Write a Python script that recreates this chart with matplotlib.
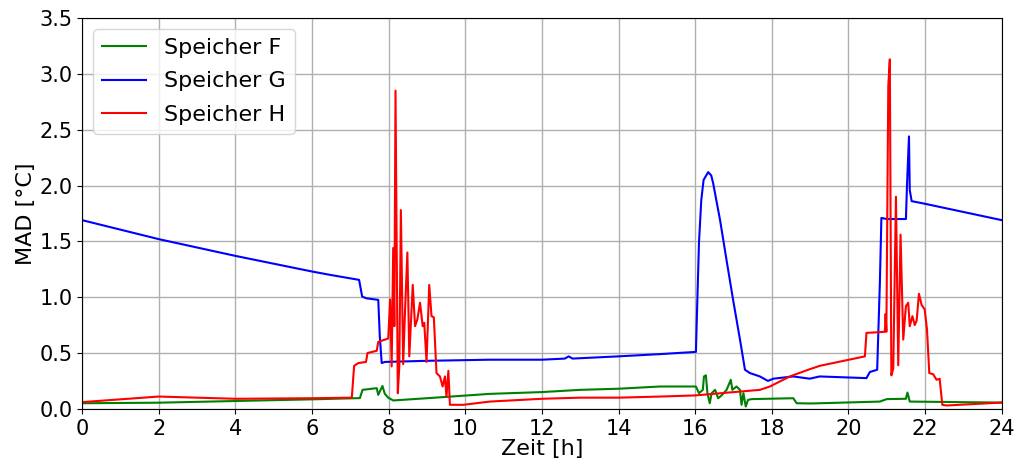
import matplotlib
matplotlib.use('Agg')
import matplotlib.pyplot as plt

# Speicher F (green)
f_t = [0, 2, 4, 6, 7.25, 7.32, 7.69, 7.73, 7.77, 7.84, 7.90, 7.99, 8.12, 9.0, 10.64, 12, 13, 14,
       15.08, 16.02, 16.1, 16.2, 16.23, 16.28, 16.32, 16.38, 16.43, 16.52, 16.60, 16.69, 16.82,
       16.93, 16.97, 17.08, 17.17, 17.21, 17.26, 17.32, 17.38, 17.47, 18.56, 18.65, 19.0, 19.25,
       20.82, 21.0, 21.5, 21.54, 21.6, 24]
f_v = [0.05, 0.055, 0.07, 0.085, 0.096, 0.17, 0.185, 0.125, 0.155, 0.205, 0.135, 0.10, 0.075, 0.095, 0.134, 0.15, 0.17, 0.18,
       0.20, 0.20, 0.14, 0.17, 0.29, 0.30, 0.14, 0.05, 0.14, 0.17, 0.095, 0.12, 0.17,
       0.26, 0.17, 0.20, 0.17, 0.036, 0.14, 0.02, 0.08, 0.087, 0.095, 0.05, 0.048, 0.05,
       0.065, 0.087, 0.09, 0.146, 0.065, 0.056]

# Speicher G (blue)
g_t = [0, 2, 4, 6, 6.47, 7.23, 7.31, 7.42, 7.73, 7.77, 7.82, 7.9, 9.0, 10.64, 12, 12.6, 12.7, 12.8, 14,
       15.08, 16.02, 16.05, 16.1, 16.16, 16.22, 16.34, 16.42, 16.47, 16.65, 16.82, 16.99, 17.17, 17.30, 17.43,
       17.69, 17.9, 18.04, 18.56, 18.99, 19.25, 20.47, 20.56, 20.75, 20.82, 20.86, 21.0, 21.50,
       21.53, 21.58, 21.60, 21.65, 21.95, 24]
g_v = [1.69, 1.52, 1.37, 1.23, 1.20, 1.155, 1.005, 0.99, 0.976, 0.65, 0.41, 0.42, 0.43, 0.44, 0.44, 0.45, 0.47, 0.45, 0.47,
       0.49, 0.51, 0.89, 1.49, 1.87, 2.05, 2.12, 2.09, 2.02, 1.69, 1.33, 0.976, 0.62, 0.35, 0.32,
       0.29, 0.25, 0.27, 0.29, 0.27, 0.29, 0.275, 0.33, 0.35, 1.125, 1.71, 1.70, 1.70,
       2.02, 2.44, 1.96, 1.86, 1.84, 1.69]

# Speicher H (red)
h_t = [0, 2, 4, 6, 7.04, 7.10, 7.21, 7.41, 7.45, 7.69, 7.73, 7.99, 8.04, 8.08, 8.12, 8.15, 8.18,
       8.24, 8.28, 8.32, 8.38, 8.43, 8.49, 8.54, 8.63, 8.69, 8.75, 8.82, 8.89, 8.93, 8.99, 9.06,
       9.12, 9.18, 9.25, 9.34, 9.41, 9.47, 9.51, 9.56, 9.60, 9.95, 10.64, 12, 13, 14, 15.08, 16,
       17.69, 17.95, 18.47, 18.95, 19.25, 20.43, 20.47, 20.95, 20.97, 20.99, 21.04, 21.08, 21.12,
       21.17, 21.24, 21.30, 21.36, 21.43, 21.50, 21.56, 21.60, 21.67, 21.73, 21.78, 21.84, 21.91,
       21.99, 22.05, 22.11, 22.21, 22.30, 22.38, 22.45, 22.56, 24]
h_v = [0.06, 0.11, 0.09, 0.095, 0.10, 0.385, 0.41, 0.42, 0.50, 0.52, 0.60, 0.63, 0.98, 0.38, 1.44, 0.74, 2.85,
       0.14, 0.38, 1.78, 0.40, 0.89, 1.40, 0.47, 1.11, 0.74, 0.80, 0.95, 0.74, 0.77, 0.42, 1.11,
       0.83, 0.82, 0.32, 0.29, 0.20, 0.29, 0.11, 0.34, 0.036, 0.036, 0.065, 0.09, 0.10, 0.10, 0.11, 0.12,
       0.17, 0.20, 0.29, 0.35, 0.385, 0.47, 0.68, 0.69, 0.85, 0.69, 2.89, 3.13, 0.30,
       0.36, 1.90, 0.39, 1.56, 0.62, 0.92, 0.95, 0.74, 0.83, 0.75, 0.79, 1.03, 0.93,
       0.89, 0.71, 0.32, 0.31, 0.26, 0.27, 0.036, 0.03, 0.056]

fig, ax = plt.subplots(figsize=(10.18, 4.63), dpi=100)
fig.subplots_adjust(left=0.0806, right=0.984, top=0.961, bottom=0.117)

ax.plot(f_t, f_v, color='green', linewidth=1.5, label='Speicher F')
ax.plot(g_t, g_v, color='blue', linewidth=1.5, label='Speicher G')
ax.plot(h_t, h_v, color='red', linewidth=1.5, label='Speicher H')

ax.set_xlim(0, 24)
ax.set_ylim(0, 3.5)
ax.set_xticks(range(0, 25, 2))
ax.grid(True, linewidth=1.0)
ax.tick_params(labelsize=15)
ax.set_xlabel('Zeit [h]', fontsize=16, labelpad=0)
ax.set_ylabel('MAD [°C]', fontsize=16, labelpad=2)
ax.legend(loc='upper left', fontsize=16, labelspacing=0.6)

fig.savefig('out.png', dpi=100)
